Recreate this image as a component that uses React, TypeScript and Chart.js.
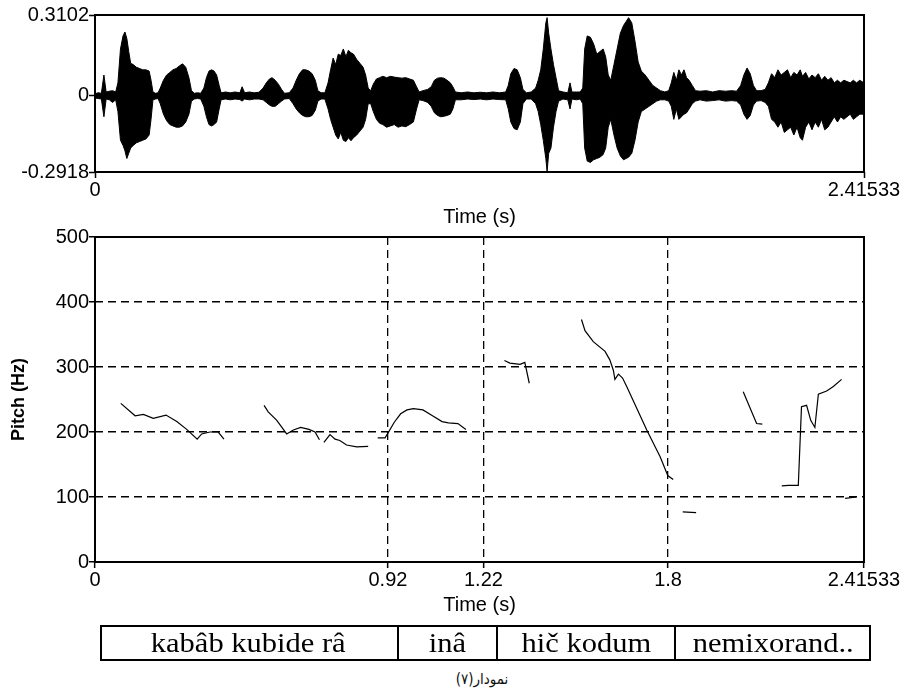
import React, { useEffect, useRef } from "react";
import { Chart, registerables } from "chart.js";
Chart.register(...registerables);

const SANS = "'Liberation Sans', Arial, Helvetica, sans-serif";
const SERIF = "'Liberation Serif', 'Times New Roman', serif";

// ---- time axis ----
const timeMax = 2.41533;
const waveXTicks = [0, 2.41533];
const waveXLabels = ["0", "2.41533"];
const pitchXTicks = [0, 0.92, 1.22, 1.8, 2.41533];
const pitchXLabels = ["0", "0.92", "1.22", "1.8", "2.41533"];

// ---- waveform (envelope) ----
const waveYTicks = [-0.2918, 0, 0.3102];
const waveYLabels = ["-0.2918", "0", "0.3102"];
const waveTimes = [
  0, 0.01, 0.02, 0.028, 0.035, 0.045, 0.055, 0.065,
  0.072, 0.08, 0.088, 0.094, 0.1, 0.106, 0.112, 0.12, 0.13, 0.14, 0.15, 0.16, 0.17, 0.176,
  0.182, 0.19, 0.198,
  0.205, 0.215, 0.225, 0.235, 0.245, 0.255, 0.265, 0.275, 0.285, 0.295, 0.303,
  0.312, 0.322, 0.332,
  0.342, 0.35, 0.358, 0.366, 0.374, 0.382, 0.39, 0.396,
  0.41, 0.425, 0.44, 0.455, 0.462, 0.47, 0.485, 0.5, 0.515,
  0.528, 0.538, 0.548, 0.556, 0.566, 0.576, 0.586, 0.595, 0.61,
  0.622, 0.632, 0.642, 0.652, 0.662, 0.672, 0.682, 0.692, 0.7, 0.71, 0.722,
  0.732, 0.74, 0.748, 0.756, 0.764, 0.772, 0.78, 0.788, 0.796, 0.804, 0.812, 0.822, 0.832, 0.842, 0.85, 0.858,
  0.866, 0.874, 0.884, 0.894, 0.904, 0.916, 0.928, 0.94, 0.952, 0.964, 0.976, 0.988, 1.0, 1.01, 1.018,
  1.03, 1.045, 1.056, 1.066, 1.076, 1.086, 1.096, 1.106, 1.116, 1.124, 1.132,
  1.15, 1.17, 1.19, 1.21, 1.23, 1.25, 1.27, 1.29,
  1.298, 1.306, 1.316, 1.326, 1.336, 1.344, 1.355, 1.37,
  1.384, 1.392, 1.4, 1.408, 1.416, 1.42, 1.425, 1.432, 1.44, 1.448, 1.456,
  1.47, 1.485, 1.492, 1.498, 1.512, 1.524,
  1.532, 1.538, 1.546, 1.556, 1.566, 1.576, 1.586, 1.596, 1.604, 1.612, 1.62, 1.63, 1.64, 1.65, 1.66, 1.668, 1.676, 1.686, 1.696, 1.706, 1.716,
  1.728, 1.74, 1.752, 1.764, 1.776, 1.79,
  1.802, 1.81, 1.818, 1.826, 1.834, 1.842, 1.85, 1.858, 1.866, 1.876, 1.886,
  1.9, 1.92, 1.94, 1.96, 1.98, 2.0, 2.015,
  2.028, 2.038, 2.048, 2.058, 2.068, 2.078, 2.092, 2.105,
  2.115, 2.125, 2.135, 2.145, 2.155, 2.165, 2.175, 2.185, 2.195, 2.205, 2.215, 2.222, 2.232, 2.242, 2.252, 2.262,
  2.272, 2.282, 2.292, 2.302, 2.312, 2.322, 2.332, 2.342, 2.352, 2.362, 2.372, 2.382, 2.392, 2.402, 2.415,
];
const waveMax = [
  0.008, 0.012, 0.01, 0.08, 0.015, 0.018, 0.02, 0.015,
  0.05, 0.18, 0.23, 0.245, 0.22, 0.17, 0.125, 0.12, 0.11, 0.105, 0.1, 0.1, 0.095, 0.06,
  0.015, 0.01, 0.012,
  0.03, 0.06, 0.08, 0.09, 0.1, 0.105, 0.115, 0.123, 0.11, 0.07, 0.02,
  0.01, 0.012, 0.01,
  0.03, 0.07, 0.095, 0.1, 0.095, 0.08, 0.04, 0.012,
  0.015, 0.012, 0.015, 0.012, 0.035, 0.012, 0.015, 0.012, 0.014,
  0.03, 0.05, 0.065, 0.07, 0.06, 0.045, 0.025, 0.01, 0.012,
  0.03, 0.06, 0.085, 0.1, 0.1, 0.095, 0.085, 0.06, 0.02, 0.012, 0.012,
  0.05, 0.1, 0.145, 0.12, 0.16, 0.155, 0.18, 0.15, 0.175, 0.165, 0.16, 0.14, 0.125, 0.11, 0.08, 0.03,
  0.02, 0.045, 0.065, 0.07, 0.075, 0.07, 0.075, 0.072, 0.07, 0.068, 0.07, 0.065, 0.06, 0.035, 0.015,
  0.02, 0.025, 0.035, 0.06, 0.068, 0.07, 0.068, 0.06, 0.05, 0.035, 0.015,
  0.012, 0.015, 0.012, 0.014, 0.012, 0.015, 0.012, 0.015,
  0.04, 0.085, 0.105, 0.1, 0.07, 0.025, 0.012, 0.015,
  0.03, 0.06, 0.1, 0.18, 0.28, 0.3, 0.24, 0.18, 0.12, 0.07, 0.02,
  0.015, 0.012, 0.05, 0.015, 0.015, 0.015,
  0.03, 0.18, 0.23, 0.225, 0.2, 0.16, 0.17, 0.18, 0.15, 0.08, 0.06, 0.12, 0.18, 0.24, 0.27, 0.285, 0.3, 0.28, 0.21, 0.13, 0.095,
  0.08, 0.06, 0.04, 0.03, 0.02, 0.015,
  0.02, 0.05, 0.09, 0.06, 0.1, 0.08, 0.1, 0.07, 0.06, 0.04, 0.02,
  0.018, 0.02, 0.015, 0.02, 0.018, 0.02, 0.018,
  0.04, 0.08, 0.107, 0.085, 0.04, 0.02, 0.02, 0.025,
  0.05, 0.085, 0.07, 0.1, 0.08, 0.09, 0.1, 0.07, 0.09, 0.08, 0.1, 0.075, 0.09, 0.065, 0.08, 0.07,
  0.085, 0.06, 0.075, 0.06, 0.07, 0.05, 0.06, 0.05, 0.06, 0.055, 0.05, 0.06, 0.05, 0.06, 0.05,
];
const waveMin = [
  -0.008, -0.01, -0.012, -0.08, -0.012, -0.015, -0.025, -0.015,
  -0.06, -0.17, -0.19, -0.21, -0.24, -0.22, -0.2, -0.19, -0.18, -0.175, -0.17, -0.165, -0.15, -0.09,
  -0.015, -0.012, -0.01,
  -0.03, -0.07, -0.095, -0.11, -0.115, -0.12, -0.12, -0.115, -0.1, -0.07, -0.02,
  -0.012, -0.01, -0.012,
  -0.04, -0.08, -0.11, -0.115, -0.11, -0.1, -0.05, -0.015,
  -0.012, -0.015, -0.012, -0.014, -0.02, -0.012, -0.015, -0.012, -0.012,
  -0.015, -0.025, -0.035, -0.04, -0.04, -0.03, -0.02, -0.012, -0.01,
  -0.03, -0.05, -0.065, -0.075, -0.08, -0.08, -0.075, -0.055, -0.02, -0.012, -0.012,
  -0.05, -0.09, -0.12, -0.15, -0.165, -0.14, -0.17, -0.175, -0.16, -0.172, -0.16, -0.15, -0.135, -0.12, -0.09, -0.03,
  -0.03, -0.06, -0.09, -0.105, -0.11, -0.12, -0.115, -0.11, -0.12, -0.115, -0.118, -0.11, -0.1, -0.05, -0.015,
  -0.018, -0.025, -0.04, -0.065, -0.075, -0.08, -0.078, -0.075, -0.07, -0.05, -0.015,
  -0.015, -0.012, -0.014, -0.012, -0.015, -0.012, -0.014, -0.015,
  -0.05, -0.1, -0.125, -0.13, -0.1, -0.03, -0.012, -0.012,
  -0.03, -0.06, -0.11, -0.17, -0.24, -0.29, -0.22, -0.2, -0.12, -0.06, -0.02,
  -0.012, -0.015, -0.05, -0.012, -0.015, -0.012,
  -0.03, -0.2, -0.25, -0.255, -0.245, -0.24, -0.235, -0.225, -0.2, -0.12, -0.09, -0.15, -0.2, -0.23, -0.245, -0.24, -0.235, -0.22, -0.17, -0.1, -0.06,
  -0.05, -0.04, -0.03, -0.02, -0.015, -0.015,
  -0.02, -0.04, -0.09, -0.05, -0.09, -0.08, -0.07, -0.065, -0.05, -0.03, -0.02,
  -0.015, -0.02, -0.018, -0.015, -0.02, -0.018, -0.02,
  -0.035, -0.07, -0.09, -0.075, -0.035, -0.02, -0.018, -0.025,
  -0.04, -0.09, -0.1, -0.12, -0.1, -0.14, -0.13, -0.12, -0.15, -0.12, -0.16, -0.17, -0.12, -0.1, -0.13, -0.1,
  -0.12, -0.09, -0.13, -0.12, -0.1, -0.08, -0.1, -0.08, -0.09, -0.08, -0.07, -0.09, -0.08, -0.07, -0.07,
];

// ---- pitch contours (one array per voiced stretch) ----
const pitchYTicks = [0, 100, 200, 300, 400, 500];
const pitchTimes = [
  [0.081, 0.126, 0.152, 0.183, 0.223, 0.257, 0.288, 0.321, 0.335, 0.361, 0.387, 0.405],
  [0.531, 0.544, 0.571, 0.602, 0.623, 0.646, 0.672, 0.691, 0.705],
  [0.719, 0.738, 0.754, 0.769, 0.79, 0.822, 0.858],
  [0.888, 0.911, 0.921, 0.94, 0.96, 0.98, 1.0, 1.03, 1.06, 1.09, 1.11, 1.14, 1.165],
  [1.286, 1.303, 1.335, 1.35, 1.364],
  [1.528, 1.539, 1.565, 1.602, 1.617, 1.628, 1.633, 1.644, 1.657, 1.67, 1.733, 1.775, 1.799, 1.816],
  [1.846, 1.888],
  [2.036, 2.078, 2.096],
  [2.157, 2.178, 2.209, 2.219, 2.235, 2.248, 2.261, 2.272, 2.298, 2.319, 2.345],
  [2.356, 2.392],
];
const pitchHz = [
  [244, 225, 227, 221, 226, 216, 204, 189, 197, 200, 200, 189],
  [241, 231, 218, 197, 203, 207, 204, 200, 188],
  [184, 196, 189, 187, 180, 177, 178],
  [191, 191, 199, 215, 228, 234, 236, 234, 225, 216, 214, 213, 204],
  [310, 306, 304, 307, 275],
  [373, 356, 339, 324, 311, 295, 281, 289, 283, 270, 203, 162, 133, 127],
  [77, 76],
  [262, 213, 212],
  [117, 118, 118, 239, 241, 218, 207, 258, 263, 270, 281],
  [98, 100],
];

// ---- transcription under the chart ----
const words = ["kabâb kubide râ", "inâ", "hič kodum", "nemixorand.."];
const wordEdges = [100, 397, 496, 674, 871];
const caption = "نمودار(۷)";

const framePlugin = {
  id: "frame",
  afterDatasetsDraw(chart: any) {
    const { ctx, chartArea: a } = chart;
    ctx.save();
    ctx.strokeStyle = "#000";
    ctx.lineWidth = 2;
    ctx.strokeRect(a.left, a.top, a.right - a.left, a.bottom - a.top);
    ctx.restore();
  },
};

const baseOpts = {
  responsive: false,
  animation: false,
  devicePixelRatio: 1,
  events: [],
  plugins: { legend: { display: false }, tooltip: { enabled: false } },
};

export default function App() {
  const topRef = useRef<HTMLCanvasElement | null>(null);
  const botRef = useRef<HTMLCanvasElement | null>(null);

  useEffect(() => {
    const maxPts = waveTimes.map((t, i) => ({ x: t, y: waveMax[i] }));
    const minPts = waveTimes.map((t, i) => ({ x: t, y: waveMin[i] }));
    const tickFont = { family: SANS, size: 20 };

    const top = new Chart(topRef.current as HTMLCanvasElement, {
      type: "line",
      data: {
        datasets: [
          { data: maxPts, borderColor: "#000", borderWidth: 1, pointRadius: 0, fill: false },
          { data: minPts, borderColor: "#000", borderWidth: 1, pointRadius: 0, fill: "-1", backgroundColor: "#000" },
        ],
      },
      options: {
        ...baseOpts,
        layout: { padding: { top: 15, right: 42, bottom: 0, left: 0 } },
        scales: {
          x: {
            type: "linear",
            min: 0,
            max: timeMax,
            afterBuildTicks: (s: any) => { s.ticks = waveXTicks.map((v) => ({ value: v })); },
            afterFit: (s: any) => { s.height = 58; },
            ticks: { autoSkip: false, maxRotation: 0, padding: 0, color: "#000", font: tickFont, callback: (_v: any, i: number) => waveXLabels[i] },
            grid: { drawOnChartArea: false, tickLength: 6, tickColor: "#000", tickWidth: 1.5 },
            border: { display: false },
            title: { display: true, text: "Time (s)", color: "#000", font: tickFont, padding: { top: 0, bottom: 1 } },
          },
          y: {
            type: "linear",
            min: -0.2918,
            max: 0.3102,
            afterBuildTicks: (s: any) => { s.ticks = waveYTicks.map((v) => ({ value: v })); },
            afterFit: (s: any) => { s.width = 95; },
            ticks: { padding: 0, color: "#000", font: tickFont, callback: (_v: any, i: number) => waveYLabels[i] },
            grid: { drawOnChartArea: false, tickLength: 6, tickColor: "#000", tickWidth: 1.5 },
            border: { display: false },
          },
        },
      } as any,
      plugins: [framePlugin],
    } as any);

    const pitchSets = pitchTimes.map((ts, k) => ({
      data: ts.map((t, i) => ({ x: t, y: pitchHz[k][i] })),
      borderColor: "#000",
      borderWidth: 1.2,
      pointRadius: 0,
      fill: false,
    }));

    const bot = new Chart(botRef.current as HTMLCanvasElement, {
      type: "line",
      data: { datasets: pitchSets },
      options: {
        ...baseOpts,
        layout: { padding: { top: 27, right: 42, bottom: 0, left: 0 } },
        scales: {
          x: {
            type: "linear",
            min: 0,
            max: timeMax,
            afterBuildTicks: (s: any) => { s.ticks = pitchXTicks.map((v) => ({ value: v })); },
            afterFit: (s: any) => { s.height = 68; },
            ticks: { autoSkip: false, maxRotation: 0, padding: 0, color: "#000", font: tickFont, callback: (_v: any, i: number) => pitchXLabels[i] },
            grid: {
              drawOnChartArea: true,
              tickLength: 6,
              tickColor: "#000",
              tickWidth: 1.5,
              lineWidth: 1.3,
              color: (c: any) => (c.tick && (c.tick.value === 0 || c.tick.value === timeMax) ? "rgba(0,0,0,0)" : "#000"),
            },
            border: { display: false, dash: [8, 5] },
            title: { display: true, text: "Time (s)", color: "#000", font: tickFont, padding: { top: 0, bottom: 13 } },
          },
          y: {
            type: "linear",
            min: 0,
            max: 500,
            afterBuildTicks: (s: any) => { s.ticks = pitchYTicks.map((v) => ({ value: v })); },
            afterFit: (s: any) => { s.width = 95; },
            ticks: { padding: 0, color: "#000", font: tickFont, callback: (v: any) => String(v) },
            grid: {
              drawOnChartArea: true,
              tickLength: 6,
              tickColor: "#000",
              tickWidth: 1.5,
              lineWidth: 1.5,
              color: (c: any) => (c.tick && (c.tick.value === 0 || c.tick.value === 500) ? "rgba(0,0,0,0)" : "#000"),
            },
            border: { display: false, dash: [8, 5] },
            title: { display: true, text: "Pitch (Hz)", color: "#000", font: { family: SANS, size: 18, weight: "bold" }, padding: { top: 8, bottom: 0 } },
          },
        },
      } as any,
      plugins: [framePlugin],
    } as any);

    return () => {
      top.destroy();
      bot.destroy();
    };
  }, []);

  return (
    <div style={{ position: "fixed", left: 0, top: 0, width: 906, height: 698, background: "#fff", overflow: "hidden" }}>
      <canvas ref={topRef} width={906} height={230} style={{ position: "absolute", left: 0, top: 0, width: 906, height: 230 }} />
      <canvas ref={botRef} width={906} height={420} style={{ position: "absolute", left: 0, top: 210, width: 906, height: 420 }} />
      <div
        style={{
          position: "absolute",
          left: wordEdges[0],
          top: 625,
          width: wordEdges[wordEdges.length - 1] - wordEdges[0],
          height: 36,
          border: "2px solid #000",
          boxSizing: "border-box",
        }}
      />
      {words.map((w, i) => (
        <div
          key={i}
          style={{
            position: "absolute",
            left: wordEdges[i],
            top: 625,
            width: wordEdges[i + 1] - wordEdges[i],
            height: 36,
            lineHeight: "36px",
            textAlign: "center",
            fontFamily: SERIF,
            fontSize: 27,
            color: "#000",
            whiteSpace: "nowrap",
            boxSizing: "border-box",
            borderLeft: i > 0 ? "2px solid #000" : "none",
          }}
        >
          <span style={{ display: "inline-block", transform: "scaleX(1.13)" }}>{w}</span>
        </div>
      ))}
      <div
        dir="rtl"
        style={{
          position: "absolute",
          left: 382,
          top: 669,
          width: 200,
          height: 20,
          lineHeight: "20px",
          textAlign: "center",
          fontFamily: "'DejaVu Sans Condensed', 'DejaVu Sans', sans-serif",
          fontSize: 15,
          fontWeight: 300,
          color: "#111",
        }}
      >
        {caption}
      </div>
    </div>
  );
}
